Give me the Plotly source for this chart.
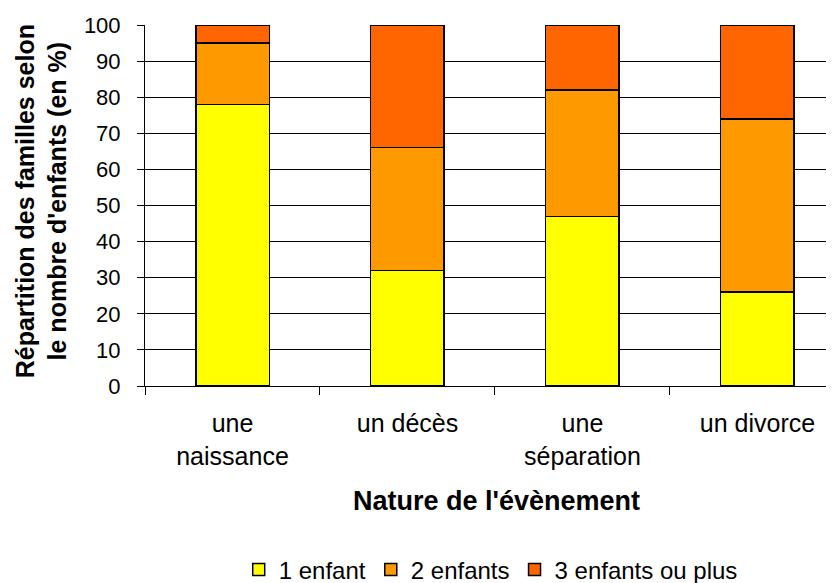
import plotly.graph_objects as go

categories = ["une<br>naissance", "un décès", "une<br>séparation", "un divorce"]
series_names = ["1 enfant", "2 enfants", "3 enfants ou plus"]
one_child = [78, 32, 47, 26]
two_children = [17, 34, 35, 48]
three_plus = [5, 34, 18, 26]
y_ticks = [0, 10, 20, 30, 40, 50, 60, 70, 80, 90, 100]

colors = ["#FFFF00", "#FF9900", "#FF6600"]
FONT = "Liberation Sans, Arial, sans-serif"

fig = go.Figure()
for name, vals, col in zip(series_names, [one_child, two_children, three_plus], colors):
    fig.add_trace(go.Bar(
        x=categories, y=vals, name=name,
        marker=dict(color=col, line=dict(color="black", width=1.5)),
        width=0.42,
    ))

fig.update_layout(
    barmode="stack",
    width=834, height=583,
    margin=dict(l=137, r=0, t=17, b=205, autoexpand=False),
    paper_bgcolor="white", plot_bgcolor="white",
    font=dict(family=FONT, size=24, color="black"),
    showlegend=True,
    legend=dict(orientation="h", x=0.496, xanchor="center", xref="paper",
                y=0.036, yanchor="middle", yref="container",
                font=dict(size=24), traceorder="normal", itemwidth=30,
                bgcolor="rgba(0,0,0,0)"),
    xaxis=dict(range=[-0.5, 3.483], showline=True, linecolor="black", linewidth=1,
               ticks="outside", tickson="boundaries", ticklen=8, tickcolor="black",
               tickfont=dict(size=25), showgrid=False, ticklabelstandoff=15),
    yaxis=dict(range=[0, 100], tickvals=y_ticks, showline=True, linecolor="black", linewidth=1,
               ticks="outside", ticklen=7, tickcolor="black", tickfont=dict(size=22),
               ticklabelstandoff=12,
               showgrid=True, gridcolor="black", gridwidth=1, zeroline=False),
    annotations=[
        dict(text="<b>Nature de l'évènement</b>", xref="paper", yref="paper",
             x=0.505, y=-0.3186, xanchor="center", yanchor="middle", showarrow=False,
             font=dict(size=27)),
        dict(text="<b>Répartition des familles selon<br>le nombre d'enfants (en %)</b>",
             xref="paper", yref="paper", x=-0.149, y=0.512, xanchor="center", yanchor="middle",
             textangle=-90, showarrow=False, font=dict(size=25)),
    ],
)
fig.write_html("out.html")
